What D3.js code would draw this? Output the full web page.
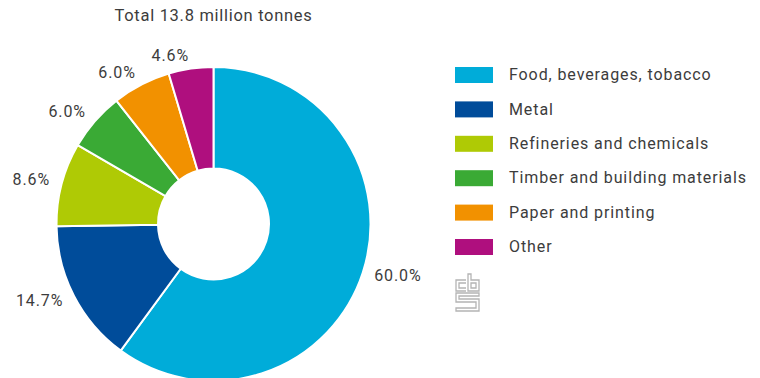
<!DOCTYPE html>
<html>
<head>
<meta charset="utf-8">
<script src="https://cdn.jsdelivr.net/npm/d3@7"></script>
<style>
  body { margin: 0; background: #fff; }
  text { font-family: Roboto, "Open Sans", sans-serif; fill: #3c3c3c; }
</style>
</head>
<body>
<div id="chart"></div>
<script>
// data
var categories = ['Food, beverages, tobacco', 'Metal', 'Refineries and chemicals',
                  'Timber and building materials', 'Paper and printing', 'Other']
var shares = [60.0, 14.7, 8.6, 6.0, 6.0, 4.6]
var colours = ['#00acd9', '#004c9a', '#afca05', '#3aaa35', '#f29100', '#af0f7e']
var title = 'Total 13.8 million tonnes'

var width = 760, height = 378
var cx = 213.5, cy = 224, outerR = 157, innerR = 55.5, labelR = 169

var svg = d3.select('#chart').append('svg').attr('width', width).attr('height', height)

svg.append('text')
  .attr('x', cx).attr('y', 17)
  .attr('text-anchor', 'middle').attr('dominant-baseline', 'middle')
  .style('font-size', '16.5px').style('letter-spacing', '0.7px')
  .text(title)

var pie = d3.pie().sort(null).value(function(d){ return d })
var arcs = pie(shares)
var arc = d3.arc().innerRadius(innerR).outerRadius(outerR)

var g = svg.append('g').attr('transform', 'translate(' + cx + ',' + cy + ')')

g.selectAll('path')
  .data(arcs)
  .enter().append('path')
  .attr('d', arc)
  .attr('fill', function(d, i){ return colours[i] })
  .attr('stroke', '#fff')
  .attr('stroke-width', 2)

// labels on a circle just outside the donut
g.selectAll('text.lbl')
  .data(arcs)
  .enter().append('text')
  .attr('class', 'lbl')
  .attr('x', function(d){ var a = (d.startAngle + d.endAngle) / 2; return labelR * Math.sin(a) })
  .attr('y', function(d){ var a = (d.startAngle + d.endAngle) / 2; return -labelR * Math.cos(a) })
  .attr('text-anchor', function(d){ var a = (d.startAngle + d.endAngle) / 2; return a < Math.PI ? 'start' : 'end' })
  .attr('dominant-baseline', 'middle')
  .style('font-size', '16px').style('letter-spacing', '0.9px')
  .text(function(d){ return d.value.toFixed(1) + '%' })

// legend
var legend = svg.append('g').attr('transform', 'translate(455,75)')
var row = legend.selectAll('g')
  .data(categories)
  .enter().append('g')
  .attr('transform', function(d, i){ return 'translate(0,' + (i * 34.4) + ')' })

row.append('rect')
  .attr('x', 0).attr('y', -8).attr('width', 38).attr('height', 16)
  .attr('fill', function(d, i){ return colours[i] })

row.append('text')
  .attr('x', 54).attr('y', 1)
  .attr('dominant-baseline', 'middle')
  .style('font-size', '16px').style('letter-spacing', '0.9px')
  .text(function(d){ return d })

// cbs logo, rough outline
var logo = svg.append('g').attr('transform', 'translate(455,273)')
  .attr('fill', 'none').attr('stroke', '#b4b4b4').attr('stroke-width', 1.3)
logo.append('path').attr('d', 'M11,7 H1 V18 H11 M11,10 H4 V15 H11')
logo.append('path').attr('d', 'M13,1 V18 H24 V7 H16 V1 Z M16,10 H21 V15 H16 Z')
logo.append('path').attr('d', 'M24,20 H1 V29 H21 V35 H1 V38 H24 V26 H4 V23 H24 Z')
</script>
</body>
</html>
